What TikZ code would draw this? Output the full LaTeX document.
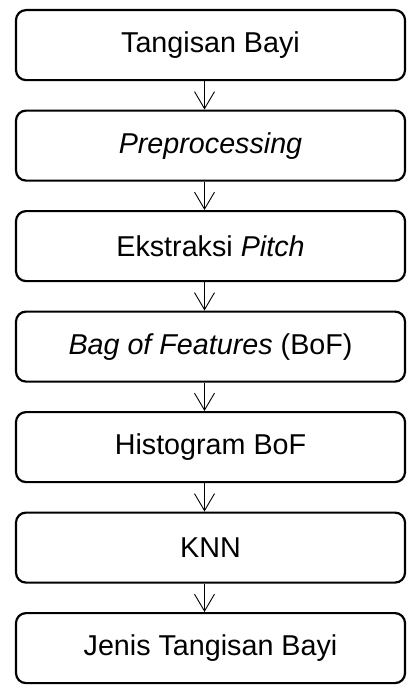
\documentclass[tikz,border=0pt]{standalone}
\usepackage{fontspec}
\setmainfont{Liberation Sans}
\usetikzlibrary{positioning,arrows.meta}

\begin{document}
\begin{tikzpicture}[x=1bp, y=1bp, font=\fontsize{28.7bp}{34bp}\selectfont,
  stepbox/.style={draw, line width=2.2bp, rounded corners=10bp,
    minimum width=389bp, minimum height=70bp, inner sep=0pt},
  flow/.style={line width=0.9bp, -{Straight Barb[length=17bp, width=20bp, line width=0.9bp]}},
  node distance=28.3bp]
  \useasboundingbox (0,0) rectangle (407,-686);
  % the processing chain, top to bottom
  \node[stepbox, anchor=north] (bayi) at (210.5,-9) {Tangisan Bayi};
  \node[stepbox, below=of bayi] (prep) {\textit{Preprocessing}};
  \node[stepbox, below=of prep] (pitch) {Ekstraksi \textit{Pitch}};
  \node[stepbox, below=of pitch] (bof) {\textit{Bag of Features} (BoF)};
  \node[stepbox, below=of bof] (hist) {Histogram BoF};
  \node[stepbox, below=of hist] (knn) {KNN};
  \node[stepbox, below=of knn] (jenis) {Jenis Tangisan Bayi};
  % arrows between the steps
  \foreach \a/\b in {bayi/prep, prep/pitch, pitch/bof, bof/hist, hist/knn, knn/jenis}
    \draw[flow] ([xshift=-6bp]\a.south) -- ([xshift=-6bp]\b.north);
\end{tikzpicture}
\end{document}
